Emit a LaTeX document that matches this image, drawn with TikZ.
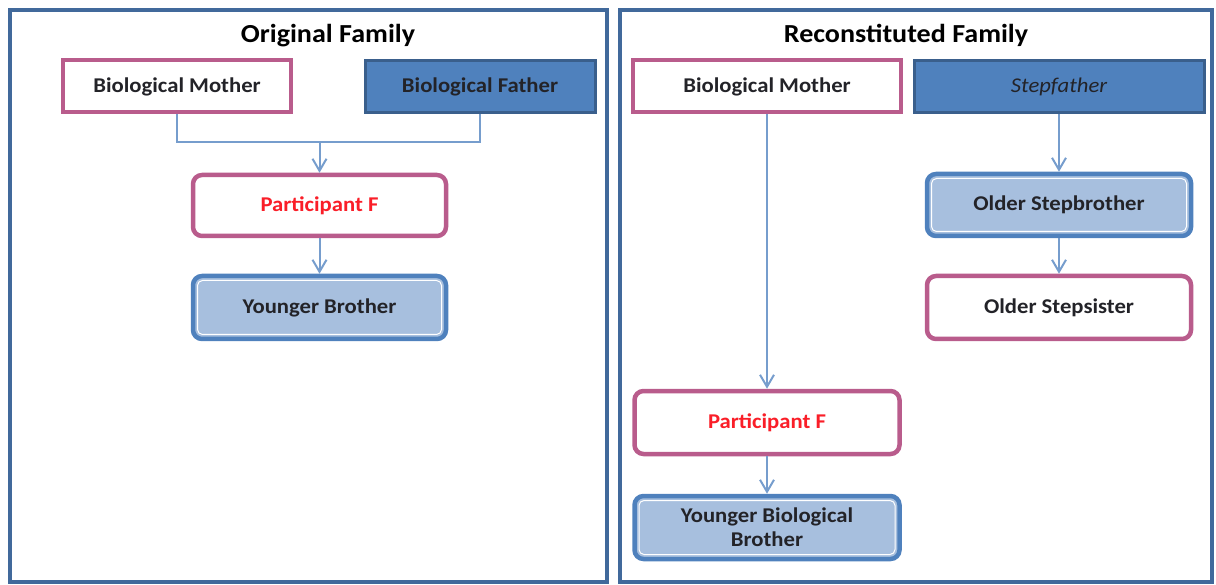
\documentclass[tikz,border=0pt]{standalone}
\usepackage{fontspec}
\setmainfont{Carlito}[FakeStretch=1.08]
\usetikzlibrary{arrows.meta}
\definecolor{framec}{RGB}{65,105,155}
\definecolor{pinkc}{RGB}{185,92,140}
\definecolor{fatherfill}{RGB}{79,129,189}
\definecolor{fatherborder}{RGB}{58,95,140}
\definecolor{lightfill}{RGB}{167,191,222}
\definecolor{lightborder}{RGB}{79,129,189}
\definecolor{connc}{RGB}{118,157,205}
\definecolor{redtext}{RGB}{250,30,40}
\definecolor{darktext}{RGB}{35,35,40}
\tikzset{
  x=1pt, y=-1pt,
  frame/.style={draw=framec, line width=3.5pt},
  title/.style={font=\fontsize{26}{29}\selectfont\bfseries, text=black},
  basebox/.style={font=\fontsize{21}{24}\selectfont\bfseries, text=darktext, align=center, inner sep=2pt},
  motherbox/.style={basebox, draw=pinkc, fill=white, line width=4pt},
  fatherbox/.style={basebox, draw=fatherborder, fill=fatherfill, line width=3pt},
  partbox/.style={basebox, draw=pinkc, fill=white, line width=4.5pt, rounded corners=9pt, text=redtext},
  pinkround/.style={basebox, draw=pinkc, fill=white, line width=4.5pt, rounded corners=9pt},
  bluebox/.style={basebox, draw=lightborder, fill=lightfill, line width=4.5pt, rounded corners=9pt,
    path picture={\draw[white, line width=1pt, rounded corners=5pt]
      ([shift={(4.5pt,-4.5pt)}]path picture bounding box.north west) rectangle
      ([shift={(-4.5pt,4.5pt)}]path picture bounding box.south east);}},
  conn/.style={draw=connc, line width=2pt},
  arr/.style={conn, -{Straight Barb[length=12pt,width=14pt,line width=2pt]}},
}
\begin{document}
\begin{tikzpicture}
\useasboundingbox (0,0) rectangle (1216,585);
% frames
\draw[frame] (10,10) rectangle (607,582);
\draw[frame] (620,10) rectangle (1212,582);
% titles
\node[title] (t1) at (328,35.5) {Original Family};
\node[title] (t2) at (906,35.5) {Reconstituted Family};
% left panel
\node[motherbox, minimum width=228pt, minimum height=52pt] (lmom) at (177,86.5) {Biological Mother};
\node[fatherbox, minimum width=230pt, minimum height=52pt] (lfat) at (480,86.5) {Biological Father};
\node[partbox, minimum width=253pt, minimum height=61pt] (lpart) at (319.5,205.5) {Participant F};
\node[bluebox, minimum width=253pt, minimum height=63pt] (lyb) at (319.5,307.5) {Younger Brother};
\coordinate (lj) at (319.5,142.5);
\draw[conn] (lmom.south) |- (lj) -| (lfat.south);
\draw[arr] (lj) -- (lpart.north);
\draw[arr] (lpart.south) -- (lyb.north);
% right panel
\node[motherbox, minimum width=268pt, minimum height=52pt] (rmom) at (767,86.5) {Biological Mother};
\node[fatherbox, minimum width=290pt, minimum height=52pt, font=\fontsize{21}{24}\selectfont\itshape] (rstep) at (1059,86.5) {Stepfather};
\node[bluebox, minimum width=264pt, minimum height=62pt] (rsb) at (1059,205) {Older Stepbrother};
\node[pinkround, minimum width=264pt, minimum height=63pt] (rss) at (1059,307.5) {Older Stepsister};
\node[partbox, minimum width=265pt, minimum height=63pt] (rpart) at (767,422.5) {Participant F};
\node[bluebox, minimum width=265pt, minimum height=63pt] (ryb) at (767,527.5) {Younger Biological\\Brother};
\draw[arr] (rmom.south) -- (rpart.north);
\draw[arr] (rpart.south) -- (ryb.north);
\draw[arr] (rstep.south) -- (rsb.north);
\draw[arr] (rsb.south) -- (rss.north);
\end{tikzpicture}
\end{document}
